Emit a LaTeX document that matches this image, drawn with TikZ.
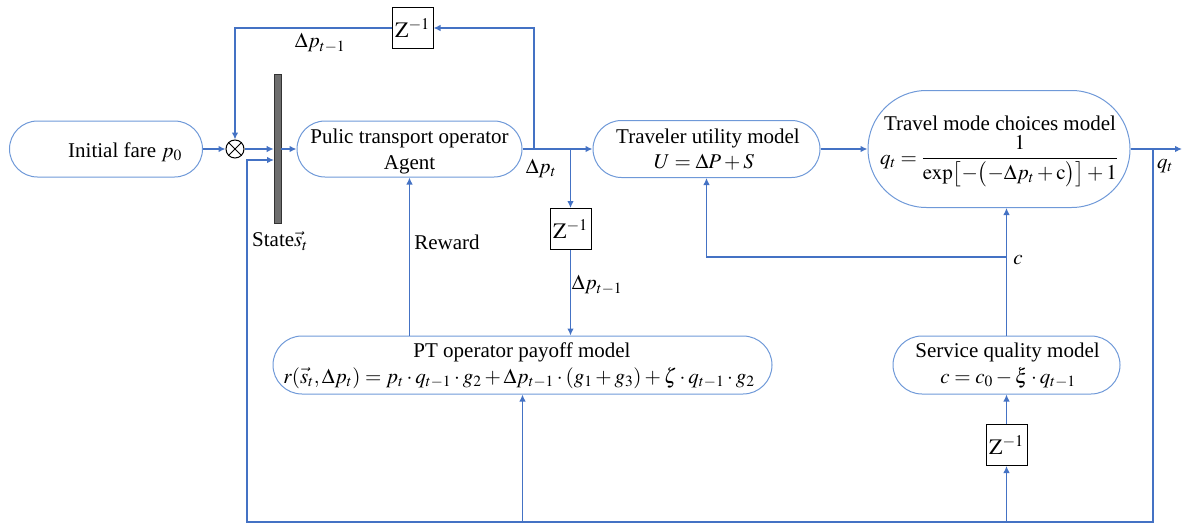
\documentclass[tikz,border=0pt]{standalone}
\usepackage{amsmath}
\usepackage{mathptmx}
\usepackage{fontspec}
\setmainfont{Liberation Serif}
\usetikzlibrary{shapes.misc,arrows.meta}
\definecolor{lblue}{HTML}{4472C4}
\definecolor{pblue}{HTML}{6F99D8}
\definecolor{bargray}{HTML}{6E6E6E}
\tikzset{
  ln/.style={draw=lblue, line width=1.2pt},
  arr/.style={ln, -{Latex[length=7pt,width=6.5pt]}},
  pill/.style={draw=pblue, line width=1pt, rounded rectangle, inner sep=0pt},
  zbox/.style={draw=black, line width=1pt, minimum width=41pt, minimum height=41pt, inner sep=0pt, font=\fontsize{22}{25}\selectfont},
  txt/.style={inner sep=0pt, font=\fontsize{21}{25}\selectfont},
}
\begin{document}
\begin{tikzpicture}[x=1pt,y=-1pt]
\useasboundingbox (0,0) rectangle (1182,525);
% pills
\node[pill, minimum width=193pt, minimum height=56pt] (init) at (106,149) {};
\node[pill, minimum width=225pt, minimum height=56pt] (ag) at (409.5,149) {};
\node[pill, minimum width=227pt, minimum height=57pt] (tu) at (706.5,149) {};
\node[pill, minimum width=262pt, minimum height=117pt] (tm) at (999,149) {};
\node[pill, minimum width=499pt, minimum height=58pt] (pay) at (522.5,365) {};
\node[pill, minimum width=227pt, minimum height=58pt] (sq) at (1006.5,365) {};
% texts in pills
\node[txt, anchor=base] (initT) at (125,157) {Initial fare $p_0$};
\node[txt, anchor=base] (agT1) at (409.5,143) {Pulic transport operator};
\node[txt, anchor=base] (agT2) at (409.5,169) {Agent};
\node[txt, anchor=base] (tuT1) at (708,143) {Traveler utility model};
\node[txt, anchor=base] (tuT2) at (704,168) {$U=\Delta P+S$};
\node[txt, anchor=base] (tmT1) at (1000,130) {Travel mode choices model};
\node[txt, anchor=base] (tmT2) at (999,164) {$q_t=\dfrac{1}{\exp\bigl[-\bigl(-\Delta p_t+\mathrm{c}\bigr)\bigr]+1}$};
\node[txt, anchor=base] (payT1) at (522,357) {PT operator payoff model};
\node[txt, anchor=base] (payT2) at (519,383) {$r(\vec{s}_t,\Delta p_t)=p_t\cdot q_{t-1}\cdot g_2+\Delta p_{t-1}\cdot(g_1+g_3)+\zeta\cdot q_{t-1}\cdot g_2$};
\node[txt, anchor=base] (sqT1) at (1007.5,357) {Service quality model};
\node[txt, anchor=base] (sqT2) at (1008,383) {$c=c_0-\xi\cdot q_{t-1}$};
% delay boxes
\node[zbox] (z1) at (412.5,28) {$\mathrm{Z}^{-1}$};
\node[zbox] (z2) at (570.5,229) {$\mathrm{Z}^{-1}$};
\node[zbox] (z3) at (1006.5,445) {$\mathrm{Z}^{-1}$};
% summing junction and state bar
\node[circle, draw=black, line width=1pt, minimum size=18pt, inner sep=0pt] (ox) at (235,149) {};
\draw[line width=1pt] (ox.north west) -- (ox.south east) (ox.north east) -- (ox.south west);
\node[fill=bargray, draw=black!80, line width=0.6pt, minimum width=7pt, minimum height=149pt, inner sep=0pt] (bar) at (277.5,148.5) {};
% coordinates
\coordinate (j1) at (534,149);
\coordinate (j2) at (570.5,149);
\coordinate (j3) at (1153,149);
\coordinate (out) at (1182,149);
\coordinate (bl) at (247,522);
\coordinate (sIn) at (274,160);
\coordinate (cj) at (1006.5,257);
% connectors
\draw[arr] (init.east) -- (ox.west);
\draw[arr] (ox.east) -- (ox.east -| bar.west);
\draw[arr] (bar.east |- ag.west) -- (ag.west);
\draw[arr] (j1) |- (z1.east);
\draw[arr] (z1.west) -| (ox.north);
\draw[arr] (ag.east) -- (tu.west);
\draw[arr] (j2) -- (z2.north);
\draw[arr] (z2.south) -- (z2.south |- pay.north);
\draw[arr] (pay.north -| ag.south) -- (ag.south);
\draw[arr] (tu.east) -- (tm.west);
\draw[arr] (tm.east) -- (out);
\draw[arr] (j3) |- (bl) |- (sIn);
\draw[arr] (pay.south |- bl) -- (pay.south);
\draw[arr] (z3.south |- bl) -- (z3.south);
\draw[arr] (z3.north) -- (sq.south);
\draw[arr] (sq.north) -- (sq.north |- tm.south);
\draw[arr] (cj) -| (tu.south);
% labels
\node[txt] (lab1) at (320,43) {$\Delta p_{t-1}$};
\node[txt] (lab2) at (541,168) {$\Delta p_t$};
\node[txt] (lab3) at (597,285) {$\Delta p_{t-1}$};
\node[txt] (lab4) at (280,241) {State$\vec{s}_t$};
\node[txt] (lab5) at (447,242) {Reward};
\node[txt] (lab6) at (1018,260) {$c$};
\node[txt] (lab7) at (1165,166) {$q_t$};
\end{tikzpicture}
\end{document}
